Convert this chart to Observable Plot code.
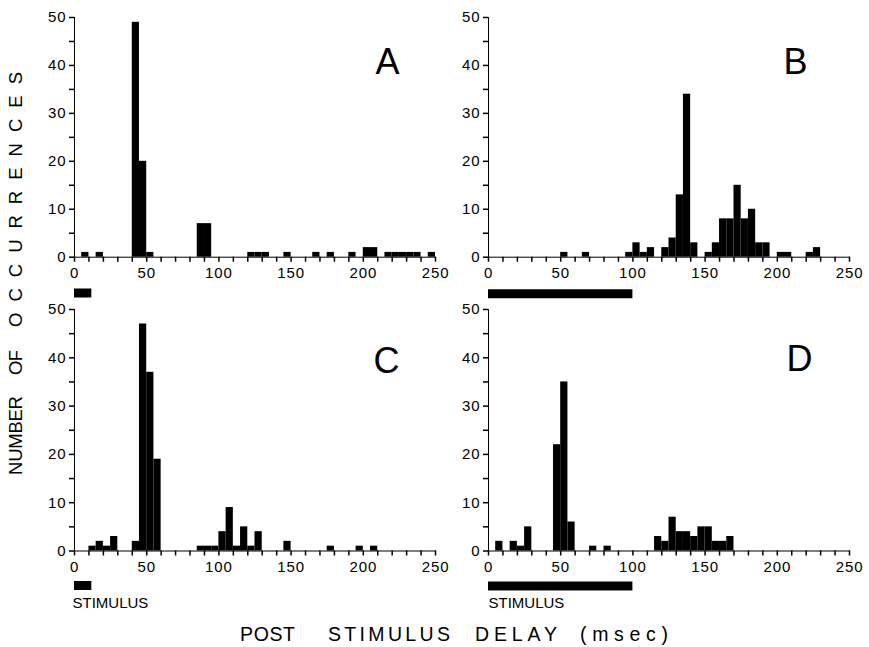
<!DOCTYPE html>
<html>
<head>
<meta charset="utf-8">
<script src="https://cdn.jsdelivr.net/npm/d3@7"></script>
<script src="https://cdn.jsdelivr.net/npm/@observablehq/plot@0.6"></script>
<style>
  html, body { margin: 0; padding: 0; background: #fff; }
  #page { position: relative; width: 869px; height: 647px; background: #fff; overflow: hidden; }
  .panel { position: absolute; }
  .panel svg { overflow: visible; }
  .panel g[aria-label*="axis"] path, .panel g[aria-label*="axis"] line { stroke-width: 1.5px; }
  .panel g[aria-label*="axis"] text { letter-spacing: 0.9px; }
  #titles { position: absolute; left: 0; top: 0; pointer-events: none; }
</style>
</head>
<body>
<div id="page"></div>
<script>
// ---- Data ----
const binWidth = 5; // ms per histogram bin

// Panel A
const binsA   = [5, 15, 40, 45, 50, 85, 90, 120, 125, 130, 145, 165, 175, 190, 200, 205, 215, 220, 225, 230, 235, 245];
const countsA = [1, 1, 49, 20, 1, 7, 7, 1, 1, 1, 1, 1, 1, 1, 2, 2, 1, 1, 1, 1, 1, 1];
// Panel B
const binsB   = [50, 65, 95, 100, 105, 110, 120, 125, 130, 135, 140, 150, 155, 160, 165, 170, 175, 180, 185, 190, 200, 205, 220, 225];
const countsB = [1, 1, 1, 3, 1, 2, 2, 4, 13, 34, 3, 1, 3, 8, 8, 15, 8, 10, 3, 3, 1, 1, 1, 2];
// Panel C
const binsC   = [10, 15, 20, 25, 40, 45, 50, 55, 85, 90, 95, 100, 105, 110, 115, 120, 125, 145, 175, 195, 205];
const countsC = [1, 2, 1, 3, 2, 47, 37, 19, 1, 1, 1, 4, 9, 1, 5, 1, 4, 2, 1, 1, 1];
// Panel D
const binsD   = [5, 15, 20, 25, 45, 50, 55, 70, 80, 115, 120, 125, 130, 135, 140, 145, 150, 155, 160, 165];
const countsD = [2, 2, 1, 5, 22, 35, 6, 1, 1, 3, 2, 7, 4, 4, 3, 5, 5, 2, 2, 3];

// Stimulus durations (ms)
const stimA = [0, 12];
const stimB = [0, 100];
const stimC = [0, 12];
const stimD = [0, 100];

// Axis ticks and labels
const xTicks  = [0, 10, 20, 30, 40, 50, 60, 70, 80, 90, 100, 110, 120, 130, 140, 150, 160, 170, 180, 190, 200, 210, 220, 230, 240, 250];
const xLabels = [0, 50, 100, 150, 200, 250];
const yTicks  = [0, 5, 10, 15, 20, 25, 30, 35, 40, 45, 50];
const yLabels = [0, 10, 20, 30, 40, 50];
const xDomain = [0, 250];
const yDomain = [0, 50];

const panelLetters = ["A", "B", "C", "D"];
const stimulusLabel = "STIMULUS";
const xTitleWords = ["POST", "STIMULUS", "DELAY", "(msec)"];
const yTitleWords = ["NUMBER", "OF", "OCCURRENCES"];

const FONT = "'Liberation Sans', Arial, sans-serif";

function panel({bins, counts, stim, letter, showStimLabel, height, marginTop, marginBottom, stimDy, labelDy, letterDx, letterDy, stimLabelDx}) {
  const data = bins.map((b, i) => ({x1: b, x2: b + binWidth, y: counts[i]}));
  const stimData = [{start: stim[0], end: stim[1]}];
  const marks = [
    Plot.rectY(data, {x1: "x1", x2: "x2", y: "y", fill: "black"}),
    Plot.ruleY(stimData, {y: 0, x1: "start", x2: "end", dy: stimDy, stroke: "black", strokeWidth: 9}),
    Plot.text([letter], {frameAnchor: "top-right", text: d => d, dx: letterDx, dy: letterDy, fontSize: 36, fill: "black"})
  ];
  if (showStimLabel) {
    marks.push(Plot.text([stimulusLabel], {x: stim[0], y: 0, text: d => d, dx: stimLabelDx, dy: labelDy, textAnchor: "start", fontSize: 15, fill: "black", style: "letter-spacing:1.5px"}));
  }
  return Plot.plot({
    width: 440,
    height,
    marginLeft: 74,
    marginRight: 5,
    marginTop,
    marginBottom,
    style: {background: "transparent", fontFamily: FONT, fontSize: "15px", color: "black", overflow: "visible"},
    x: {domain: xDomain, ticks: xTicks, tickFormat: d => xLabels.includes(d) ? String(d) : "", tickSize: 5, tickPadding: 5, line: true, label: null},
    y: {domain: yDomain, ticks: yTicks, tickFormat: d => yLabels.includes(d) ? String(d) : "", tickSize: 5, tickPadding: 3, line: true, label: null},
    marks
  });
}

const page = document.getElementById("page");
const configs = [
  {left: 0,   top: 0,   bins: binsA, counts: countsA, stim: stimA, letter: panelLetters[0], showStimLabel: false, height: 300, marginTop: 17, marginBottom: 43.3, stimDy: 35.8, labelDy: 0, letterDx: -36, letterDy: 31, stimLabelDx: 0},
  {left: 414, top: 0,   bins: binsB, counts: countsB, stim: stimB, letter: panelLetters[1], showStimLabel: false, height: 300, marginTop: 17, marginBottom: 43.3, stimDy: 36.5, labelDy: 0, letterDx: -42, letterDy: 31, stimLabelDx: 0},
  {left: 0,   top: 290, bins: binsC, counts: countsC, stim: stimC, letter: panelLetters[2], showStimLabel: true,  height: 330, marginTop: 19, marginBottom: 69.5, stimDy: 34.5, labelDy: 52, letterDx: -36, letterDy: 38, stimLabelDx: -2},
  {left: 414, top: 290, bins: binsD, counts: countsD, stim: stimD, letter: panelLetters[3], showStimLabel: true,  height: 330, marginTop: 19, marginBottom: 69.5, stimDy: 35, labelDy: 52, letterDx: -37, letterDy: 36, stimLabelDx: 0}
];
for (const c of configs) {
  const div = document.createElement("div");
  div.className = "panel";
  div.style.left = c.left + "px";
  div.style.top = c.top + "px";
  div.appendChild(panel(c));
  page.appendChild(div);
}

// Axis titles (shared), each word spread to the extent it has in the figure
const svg = d3.select(page).append("svg")
  .attr("id", "titles")
  .attr("width", 869).attr("height", 647);
const xWordSpans = [[240, 295], [328, 450], [475, 557], [580, 668]];
xTitleWords.forEach((w, i) => {
  const [a, b] = xWordSpans[i];
  svg.append("text")
    .attr("x", a).attr("y", 641)
    .attr("textLength", b - a).attr("lengthAdjust", "spacing")
    .style("font-family", FONT).style("font-size", "19.5px")
    .text(w);
});
// spans along the rotated axis, measured from the bottom (page y) upward
const yWordSpans = [[475, 396], [375, 350], [327, 72]];
const yg = svg.append("g").attr("transform", "translate(21.5,0) rotate(-90)");
yTitleWords.forEach((w, i) => {
  const [a, b] = yWordSpans[i];
  yg.append("text")
    .attr("x", -a).attr("y", 0)
    .attr("textLength", a - b).attr("lengthAdjust", "spacing")
    .style("font-family", FONT).style("font-size", "18.5px")
    .text(w);
});
</script>
</body>
</html>
